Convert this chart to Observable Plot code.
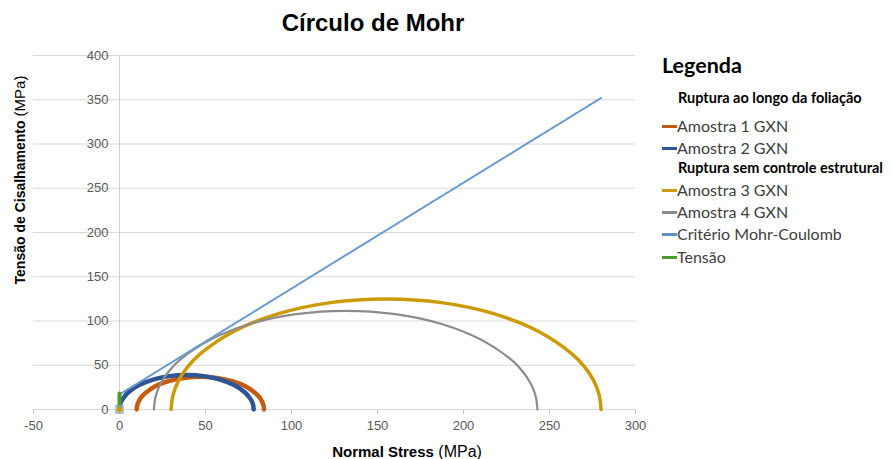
<!DOCTYPE html>
<html><head><meta charset="utf-8">
<script src="https://cdn.jsdelivr.net/npm/d3@7"></script>
<script src="https://cdn.jsdelivr.net/npm/@observablehq/plot@0.6"></script>
<style>
body{margin:0;background:#fff;}
#wrap{position:relative;width:892px;height:459px;overflow:hidden;font-family:"Liberation Sans",Arial,sans-serif;}
#chart{position:absolute;left:0;top:0;}
.abs{position:absolute;white-space:nowrap;}
#title{left:223px;width:300px;top:8px;text-align:center;font-weight:bold;font-size:24px;color:#000;line-height:30px;}
#ytitle{left:-110px;width:260px;top:170px;height:20px;line-height:20px;text-align:center;transform:rotate(-90deg);color:#000;}
#xtitle{left:257px;width:300px;top:442px;line-height:20px;text-align:center;color:#000;}
.leg{font-family:Lato,"Open Sans",sans-serif;}
#legTitle{left:662px;font-size:21.5px;font-weight:bold;line-height:26px;color:#000;}
.hdr{left:678px;font-size:14.5px;font-weight:bold;line-height:20px;color:#000;}
.item{left:662px;font-size:16px;line-height:20px;color:#404040;display:flex;align-items:center;}
.sw{display:inline-block;width:15px;height:3px;margin-right:0px;}
</style></head><body>
<div id="wrap">
  <div id="chart"></div>
  <div id="title" class="abs">Círculo de Mohr</div>
  <div id="ytitle" class="abs"><span style="font-weight:bold;font-size:14px">Tensão de Cisalhamento</span><span style="font-size:15px"> (MPa)</span></div>
  <div id="xtitle" class="abs"><span style="font-weight:bold;font-size:15px">Normal Stress</span><span style="font-size:16px"> (MPa)</span></div>
  <div id="legend"></div>
</div>
<script>
// ---- data ----
const xTicks = [-50, 0, 50, 100, 150, 200, 250, 300];
const yTicks = [0, 50, 100, 150, 200, 250, 300, 350, 400];

const amostra1 = [
  {x:10,y:0},{x:10.3,y:4.8},{x:11.3,y:9.6},{x:12.8,y:14.2},{x:15.0,y:18.5},{x:20.8,y:26.2},{x:28.5,y:32.0},{x:37.4,y:35.7},{x:47,y:37},
  {x:56.6,y:35.7},{x:65.5,y:32.0},{x:73.2,y:26.2},{x:79.0,y:18.5},{x:81.2,y:14.2},{x:82.7,y:9.6},{x:83.7,y:4.8},{x:84,y:0}
];
const amostra2 = [
  {x:0,y:0},{x:0.3,y:5.1},{x:1.3,y:10.1},{x:3.0,y:14.9},{x:5.2,y:19.5},{x:11.4,y:27.6},{x:19.5,y:33.8},{x:28.9,y:37.7},{x:39,y:39},
  {x:49.1,y:37.7},{x:58.5,y:33.8},{x:66.6,y:27.6},{x:72.8,y:19.5},{x:75.0,y:14.9},{x:76.7,y:10.1},{x:77.7,y:5.1},{x:78,y:0}
];
const amostra3 = [
  {x:30,y:0},{x:31.1,y:16.3},{x:34.25,y:32.4},{x:39.5,y:47.8},{x:46.75,y:62.5},{x:66.6,y:88.4},{x:92.5,y:108.25},{x:122.6,y:120.75},{x:155,y:125},
  {x:187.4,y:120.75},{x:217.5,y:108.25},{x:243.4,y:88.4},{x:263.25,y:62.5},{x:270.5,y:47.8},{x:275.75,y:32.4},{x:278.9,y:16.3},{x:280,y:0}
];
const amostra4 = [
  {x:20,y:0},{x:21.0,y:14.55},{x:23.8,y:28.9},{x:28.5,y:42.7},{x:34.9,y:55.75},{x:52.7,y:78.8},{x:75.75,y:96.6},{x:102.6,y:107.7},{x:131.5,y:111.5},
  {x:160.4,y:107.7},{x:187.25,y:96.6},{x:210.3,y:78.8},{x:228.1,y:55.75},{x:234.5,y:42.7},{x:239.2,y:28.9},{x:242.0,y:14.55},{x:243,y:0}
];
const mohrCoulomb = [{x:0,y:17},{x:280,y:352}];
const tensao = [{x:0,y:0},{x:0,y:18}];
const origin = [{x:0,y:0}];

const legendHeaders = ["Ruptura ao longo da foliação", "Ruptura sem controle estrutural"];
const seriesNames = ["Amostra 1 GXN","Amostra 2 GXN","Amostra 3 GXN","Amostra 4 GXN","Critério Mohr-Coulomb","Tensão"];
const seriesColors = ["#C55A11","#2E5597","#CC9A06","#8C8C8C","#5B8FC6","#4E9A2F"];

// ---- chart ----
const chart = Plot.plot({
  width: 892,
  height: 459,
  marginLeft: 33,
  marginRight: 257,
  marginTop: 55,
  marginBottom: 50,
  style: {fontFamily: "'Liberation Sans', Arial, sans-serif", background: "transparent"},
  x: {domain: [-50, 300], axis: null},
  y: {domain: [0, 400], axis: null},
  marks: [
    Plot.ruleY(yTicks, {y: d => d, x1: -50, x2: 300, stroke: "#d9d9d9", strokeWidth: 1, strokeOpacity: 1}),
    Plot.ruleX([0], {x: d => d, y1: 0, y2: 400, stroke: "#d0d0d0", strokeWidth: 1, strokeOpacity: 1}),
    Plot.ruleX(xTicks, {x: d => d, y1: 0, y2: 0, insetBottom: -5, stroke: "#c8c8c8", strokeOpacity: 1}),
    Plot.text(yTicks, {x: 0, y: d => d, text: d => String(d), textAnchor: "end", dx: -11, fill: "#595959", fontSize: 13}),
    Plot.text(xTicks, {x: d => d, y: 0, text: d => String(d), dy: 16, fill: "#595959", fontSize: 13}),
    Plot.line(amostra1, {x: "x", y: "y", stroke: seriesColors[0], strokeWidth: 4.5, curve: "catmull-rom"}),
    Plot.line(amostra2, {x: "x", y: "y", stroke: seriesColors[1], strokeWidth: 4.5, curve: "catmull-rom"}),
    Plot.line(amostra3, {x: "x", y: "y", stroke: seriesColors[2], strokeWidth: 3.5, curve: "catmull-rom"}),
    Plot.line(amostra4, {x: "x", y: "y", stroke: seriesColors[3], strokeWidth: 2.2, curve: "catmull-rom"}),
    Plot.line(mohrCoulomb, {x: "x", y: "y", stroke: "#6A9BD0", strokeWidth: 2, strokeDasharray: "1.5,1.2"}),
    Plot.line(tensao, {x: "x", y: "y", stroke: seriesColors[5], strokeWidth: 4}),
    Plot.dot(origin, {x: "x", y: "y", symbol: "square", r: 4, stroke: "#7AA7DA", strokeWidth: 1.2, fill: "none"}),
    Plot.dot(origin, {x: "x", y: "y", r: 3, fill: seriesColors[2], stroke: "none"})
  ]
});
document.getElementById("chart").appendChild(chart);

// ---- legend ----
const legend = document.getElementById("legend");
function addDiv(cls, top, html) {
  const d = document.createElement("div");
  d.className = "abs leg " + cls;
  d.style.top = top + "px";
  d.innerHTML = html;
  legend.appendChild(d);
  return d;
}
addDiv("", 52, "Legenda").id = "legTitle";
const rows = [
  {t: "hdr", text: legendHeaders[0], c: 98},
  {t: "item", i: 0, c: 126},
  {t: "item", i: 1, c: 148},
  {t: "hdr", text: legendHeaders[1], c: 168},
  {t: "item", i: 2, c: 190},
  {t: "item", i: 3, c: 212},
  {t: "item", i: 4, c: 234},
  {t: "item", i: 5, c: 257}
];
rows.forEach(r => {
  if (r.t === "hdr") addDiv("hdr", r.c - 10, r.text);
  else addDiv("item", r.c - 10, `<span class="sw" style="background:${seriesColors[r.i]}"></span><span>${seriesNames[r.i]}</span>`);
});
</script>
</body></html>
